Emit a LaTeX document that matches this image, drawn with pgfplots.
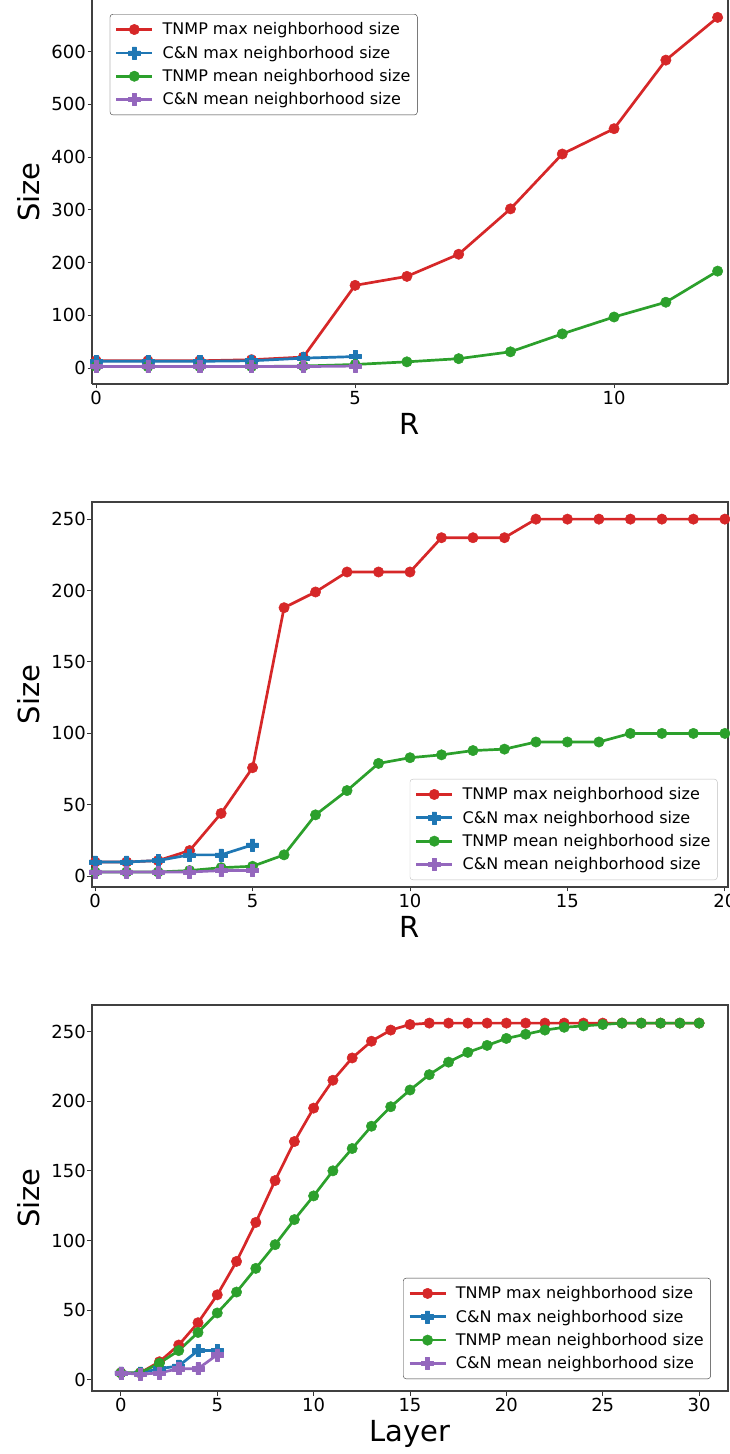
\documentclass[border=0pt]{standalone}
\usepackage{fontspec}
\setmainfont{DejaVu Sans}
\usepackage{pgfplots}
\pgfplotsset{compat=1.18}
\definecolor{tred}{HTML}{D62728}
\definecolor{tblue}{HTML}{1F77B4}
\definecolor{tgreen}{HTML}{2CA02C}
\definecolor{tpurple}{HTML}{9467BD}
\pgfdeclareplotmark{fatplus}{%
  \pgfpathmoveto{\pgfpoint{-0.35\pgfplotmarksize}{\pgfplotmarksize}}%
  \pgfpathlineto{\pgfpoint{0.35\pgfplotmarksize}{\pgfplotmarksize}}%
  \pgfpathlineto{\pgfpoint{0.35\pgfplotmarksize}{0.35\pgfplotmarksize}}%
  \pgfpathlineto{\pgfpoint{\pgfplotmarksize}{0.35\pgfplotmarksize}}%
  \pgfpathlineto{\pgfpoint{\pgfplotmarksize}{-0.35\pgfplotmarksize}}%
  \pgfpathlineto{\pgfpoint{0.35\pgfplotmarksize}{-0.35\pgfplotmarksize}}%
  \pgfpathlineto{\pgfpoint{0.35\pgfplotmarksize}{-\pgfplotmarksize}}%
  \pgfpathlineto{\pgfpoint{-0.35\pgfplotmarksize}{-\pgfplotmarksize}}%
  \pgfpathlineto{\pgfpoint{-0.35\pgfplotmarksize}{-0.35\pgfplotmarksize}}%
  \pgfpathlineto{\pgfpoint{-\pgfplotmarksize}{-0.35\pgfplotmarksize}}%
  \pgfpathlineto{\pgfpoint{-\pgfplotmarksize}{0.35\pgfplotmarksize}}%
  \pgfpathlineto{\pgfpoint{-0.35\pgfplotmarksize}{0.35\pgfplotmarksize}}%
  \pgfpathclose
  \pgfusepathqfillstroke}
\pgfplotsset{
  myaxis/.style={
    scale only axis, width=636pt,
    axis x line*=bottom, axis y line*=box,
    tick align=outside, xtick pos=left, ytick pos=left,
    major tick length=4.5pt,
    tick style={black!80, line width=1pt},
    axis line style={black!75, line width=1.3pt},
    ticklabel style={font=\fontsize{18}{21}\selectfont},
    yticklabel style={inner sep=1.5pt},
    xticklabel style={inner sep=2.5pt},
    /pgf/number format/assume math mode=true,
    label style={font=\fontsize{29}{34}\selectfont},
    xlabel style={at={(axis description cs:0.5,-0.132)}, anchor=base},
    ylabel style={at={(axis description cs:-0.099,0.5)}, anchor=center},
    ylabel={Size},
    legend style={font=\fontsize{16}{19}\selectfont, draw=black!80,
      rounded corners=3pt, row sep=5.7pt, column sep=7pt, inner xsep=5pt, inner ysep=6.5pt,
      cells={anchor=west, inner xsep=3pt}},
    legend image code/.code={\draw[mark repeat=2, mark phase=2] plot coordinates {(0pt,0pt) (18pt,0pt) (36pt,0pt)};},
    legend image post style={line width=2.7pt},
    every axis plot/.append style={line width=2.7pt, line join=round},
  },
  sred/.style={color=tred, mark=*, mark size=5.2pt, mark options={solid, line width=0.5pt}},
  sblue/.style={color=tblue, mark=fatplus, mark size=6pt, mark options={solid, line width=0.5pt}},
  sgreen/.style={color=tgreen, mark=*, mark size=5.2pt, mark options={solid, line width=0.5pt}},
  spurple/.style={color=tpurple, mark=fatplus, mark size=6pt, mark options={solid, line width=0.5pt}},
}
\begin{document}
\begin{tikzpicture}
\useasboundingbox (0,0) rectangle (730pt,1454pt);
% ---------- top panel ----------
\begin{axis}[myaxis, at={(92pt,1070pt)}, anchor=south west, height=384pt,
  xmin=-0.08, xmax=12.2, ymin=-30, ymax=698,
  xtick={0,5,10}, ytick={0,100,200,300,400,500,600},
  xlabel={R},
  legend style={at={(0.028,0.9635)}, anchor=north west}]
\addplot[sred] coordinates {(0,14)(1,14)(2,14)(3,16)(4,21)(5,157)(6,174)(7,216)(8,302)(9,406)(10,454)(11,584)(12,665)};
\addlegendentry{TNMP max neighborhood size}
\addplot[sblue] coordinates {(0,13)(1,13)(2,13)(3,14)(4,19)(5,22)};
\addlegendentry{C\&N max neighborhood size}
\addplot[sgreen] coordinates {(0,3)(1,3)(2,3)(3,3)(4,4)(5,7)(6,12)(7,18)(8,31)(9,65)(10,97)(11,125)(12,184)};
\addlegendentry{TNMP mean neighborhood size}
\addplot[spurple] coordinates {(0,3)(1,3)(2,3)(3,3)(4,3)(5,4)};
\addlegendentry{C\&N mean neighborhood size}
\end{axis}
% ---------- middle panel ----------
\begin{axis}[myaxis, at={(92pt,567pt)}, anchor=south west, height=385pt,
  axis x line*=box, xtick pos=left,
  xmin=-0.1, xmax=20.1, ymin=-7.5, ymax=262,
  xtick={0,5,10,15,20}, ytick={0,50,100,150,200,250},
  xlabel={R},
  legend style={at={(0.9836,0.018)}, anchor=south east, draw=black!25}]
\addplot[sred] coordinates {(0,10)(1,10)(2,11)(3,18)(4,44)(5,76)(6,188)(7,199)(8,213)(9,213)(10,213)(11,237)(12,237)(13,237)(14,250)(15,250)(16,250)(17,250)(18,250)(19,250)(20,250)};
\addlegendentry{TNMP max neighborhood size}
\addplot[sblue] coordinates {(0,10)(1,10)(2,11)(3,15)(4,15)(5,22)};
\addlegendentry{C\&N max neighborhood size}
\addplot[sgreen] coordinates {(0,3)(1,3)(2,3)(3,4)(4,6)(5,7)(6,15)(7,43)(8,60)(9,79)(10,83)(11,85)(12,88)(13,89)(14,94)(15,94)(16,94)(17,100)(18,100)(19,100)(20,100)};
\addlegendentry{TNMP mean neighborhood size}
\addplot[spurple] coordinates {(0,3)(1,3)(2,3)(3,3)(4,4)(5,4)};
\addlegendentry{C\&N mean neighborhood size}
\end{axis}
% ---------- bottom panel ----------
\begin{axis}[myaxis, at={(92pt,63pt)}, anchor=south west, height=386pt,
  axis x line*=box, xtick pos=left,
  xmin=-1.5, xmax=31.5, ymin=-8, ymax=269,
  xtick={0,5,10,15,20,25,30}, ytick={0,50,100,150,200,250},
  xlabel={Layer},
  legend style={at={(0.973,0.031)}, anchor=south east}]
\addplot[sred] coordinates {(0,5)(1,5)(2,13)(3,25)(4,41)(5,61)(6,85)(7,113)(8,143)(9,171)(10,195)(11,215)(12,231)(13,243)(14,251)(15,255)(16,256)(17,256)(18,256)(19,256)(20,256)(21,256)(22,256)(23,256)(24,256)(25,256)(26,256)(27,256)(28,256)(29,256)(30,256)};
\addlegendentry{TNMP max neighborhood size}
\addplot[sblue] coordinates {(0,5)(1,5)(2,8)(3,10)(4,21)(5,21)};
\addlegendentry{C\&N max neighborhood size}
\addplot[sgreen] coordinates {(0,5)(1,5)(2,12)(3,21)(4,34)(5,48)(6,63)(7,80)(8,97)(9,115)(10,132)(11,150)(12,166)(13,182)(14,196)(15,208)(16,219)(17,228)(18,235)(19,240)(20,245)(21,248)(22,251)(23,253)(24,254)(25,255)(26,256)(27,256)(28,256)(29,256)(30,256)};
\addlegendentry{TNMP mean neighborhood size}
\addplot[spurple] coordinates {(0,5)(1,4)(2,5)(3,8)(4,8)(5,18)};
\addlegendentry{C\&N mean neighborhood size}
\end{axis}
\end{tikzpicture}
\end{document}
